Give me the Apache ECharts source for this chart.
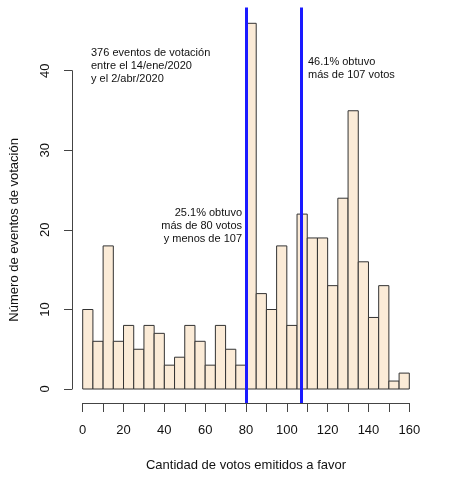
<!DOCTYPE html>
<html>
<head>
<meta charset="utf-8">
<script src="https://cdn.jsdelivr.net/npm/echarts@6/dist/echarts.min.js"></script>
<style>
  html, body { margin: 0; padding: 0; background: #fff; }
  #main { width: 457px; height: 490px; }
</style>
</head>
<body>
<div id="main"></div>
<script>
// histograma: intervalos de 5 votos, de 0 a 160
var binStarts = [0, 5, 10, 15, 20, 25, 30, 35, 40, 45, 50, 55, 60, 65, 70, 75,
                 80, 85, 90, 95, 100, 105, 110, 115, 120, 125, 130, 135, 140, 145, 150, 155];
var binWidth = 5;
var counts = [10, 6, 18, 6, 8, 5, 8, 7, 3, 4, 8, 6, 3, 8, 5, 3,
              46, 12, 10, 18, 8, 22, 19, 19, 13, 24, 35, 16, 9, 13, 1, 2];
var xTicks = [0, 20, 40, 60, 80, 100, 120, 140, 160];
var yTicks = [0, 10, 20, 30, 40];
var cutLines = [80, 107];

var data = binStarts.map(function (s, i) { return [s, s + binWidth, counts[i]]; });

var font = 'Liberation Sans, Arial, Helvetica, sans-serif';
var chart = echarts.init(document.getElementById('main'));

chart.setOption({
  animation: false,
  textStyle: { fontFamily: font },
  grid: [
    // zona de datos (incluye el hueco hasta el eje x)
    { left: 82.7, right: 47.7, top: 7.4, bottom: 87 },
    // solo para el eje y (0..40)
    { left: 82.7, right: 47.7, top: 70.7, bottom: 101 }
  ],
  xAxis: [{
    gridIndex: 0, type: 'value', min: 0, max: 160, interval: 10,
    splitLine: { show: false },
    axisLine: { onZero: false, lineStyle: { color: '#444', width: 1 } },
    axisTick: { length: 9, lineStyle: { color: '#444' } },
    axisLabel: {
      color: '#111', fontSize: 13, margin: 21,
      formatter: function (v) { return xTicks.indexOf(v) >= 0 ? String(v) : ''; }
    },
    name: 'Cantidad de votos emitidos a favor',
    nameLocation: 'middle', nameGap: 56,
    nameTextStyle: { color: '#111', fontSize: 13 }
  }, {
    gridIndex: 1, type: 'value', min: 0, max: 160, show: false
  }],
  yAxis: [{
    gridIndex: 0, type: 'value', min: -1.76, max: 48, show: false
  }, {
    gridIndex: 1, type: 'value', min: 0, max: 40, interval: 10, offset: 13.5,
    splitLine: { show: false },
    axisLine: { show: true, onZero: false, lineStyle: { color: '#444', width: 1 } },
    axisTick: { show: true, length: 8, lineStyle: { color: '#444' } },
    axisLabel: {
      color: '#111', fontSize: 13, rotate: 90, margin: 20,
      formatter: function (v) { return yTicks.indexOf(v) >= 0 ? String(v) : ''; }
    },
    name: 'Número de eventos de votación',
    nameLocation: 'middle', nameGap: 51,
    nameTextStyle: { color: '#111', fontSize: 13 }
  }],
  series: [{
    type: 'custom',
    xAxisIndex: 0, yAxisIndex: 0,
    encode: { x: [0, 1], y: 2 },
    data: data,
    renderItem: function (params, api) {
      var p0 = api.coord([api.value(0), api.value(2)]);
      var p1 = api.coord([api.value(1), 0]);
      return {
        type: 'rect',
        shape: { x: p0[0], y: p0[1], width: p1[0] - p0[0], height: p1[1] - p0[1] },
        style: { fill: '#fbebd7', stroke: '#333', lineWidth: 1 }
      };
    },
    markLine: {
      silent: true, symbol: 'none', label: { show: false },
      lineStyle: { color: '#1a1aff', width: 3, type: 'solid' },
      data: cutLines.map(function (v) { return { xAxis: v }; })
    },
    z: 2
  }],
  graphic: [
    {
      type: 'text', x: 91, y: 46,
      style: {
        text: '376 eventos de votación\nentre el 14/ene/2020\ny el 2/abr/2020',
        font: '11px ' + font, fill: '#111', lineHeight: 13
      }
    },
    {
      type: 'text', x: 308, y: 55,
      style: {
        text: '46.1% obtuvo\nmás de 107 votos',
        font: '11px ' + font, fill: '#111', lineHeight: 13
      }
    },
    {
      type: 'text', x: 242, y: 206,
      style: {
        text: '25.1% obtuvo\nmás de 80 votos\ny menos de 107',
        font: '11px ' + font, fill: '#111', lineHeight: 13, align: 'right'
      }
    }
  ]
});
</script>
</body>
</html>
